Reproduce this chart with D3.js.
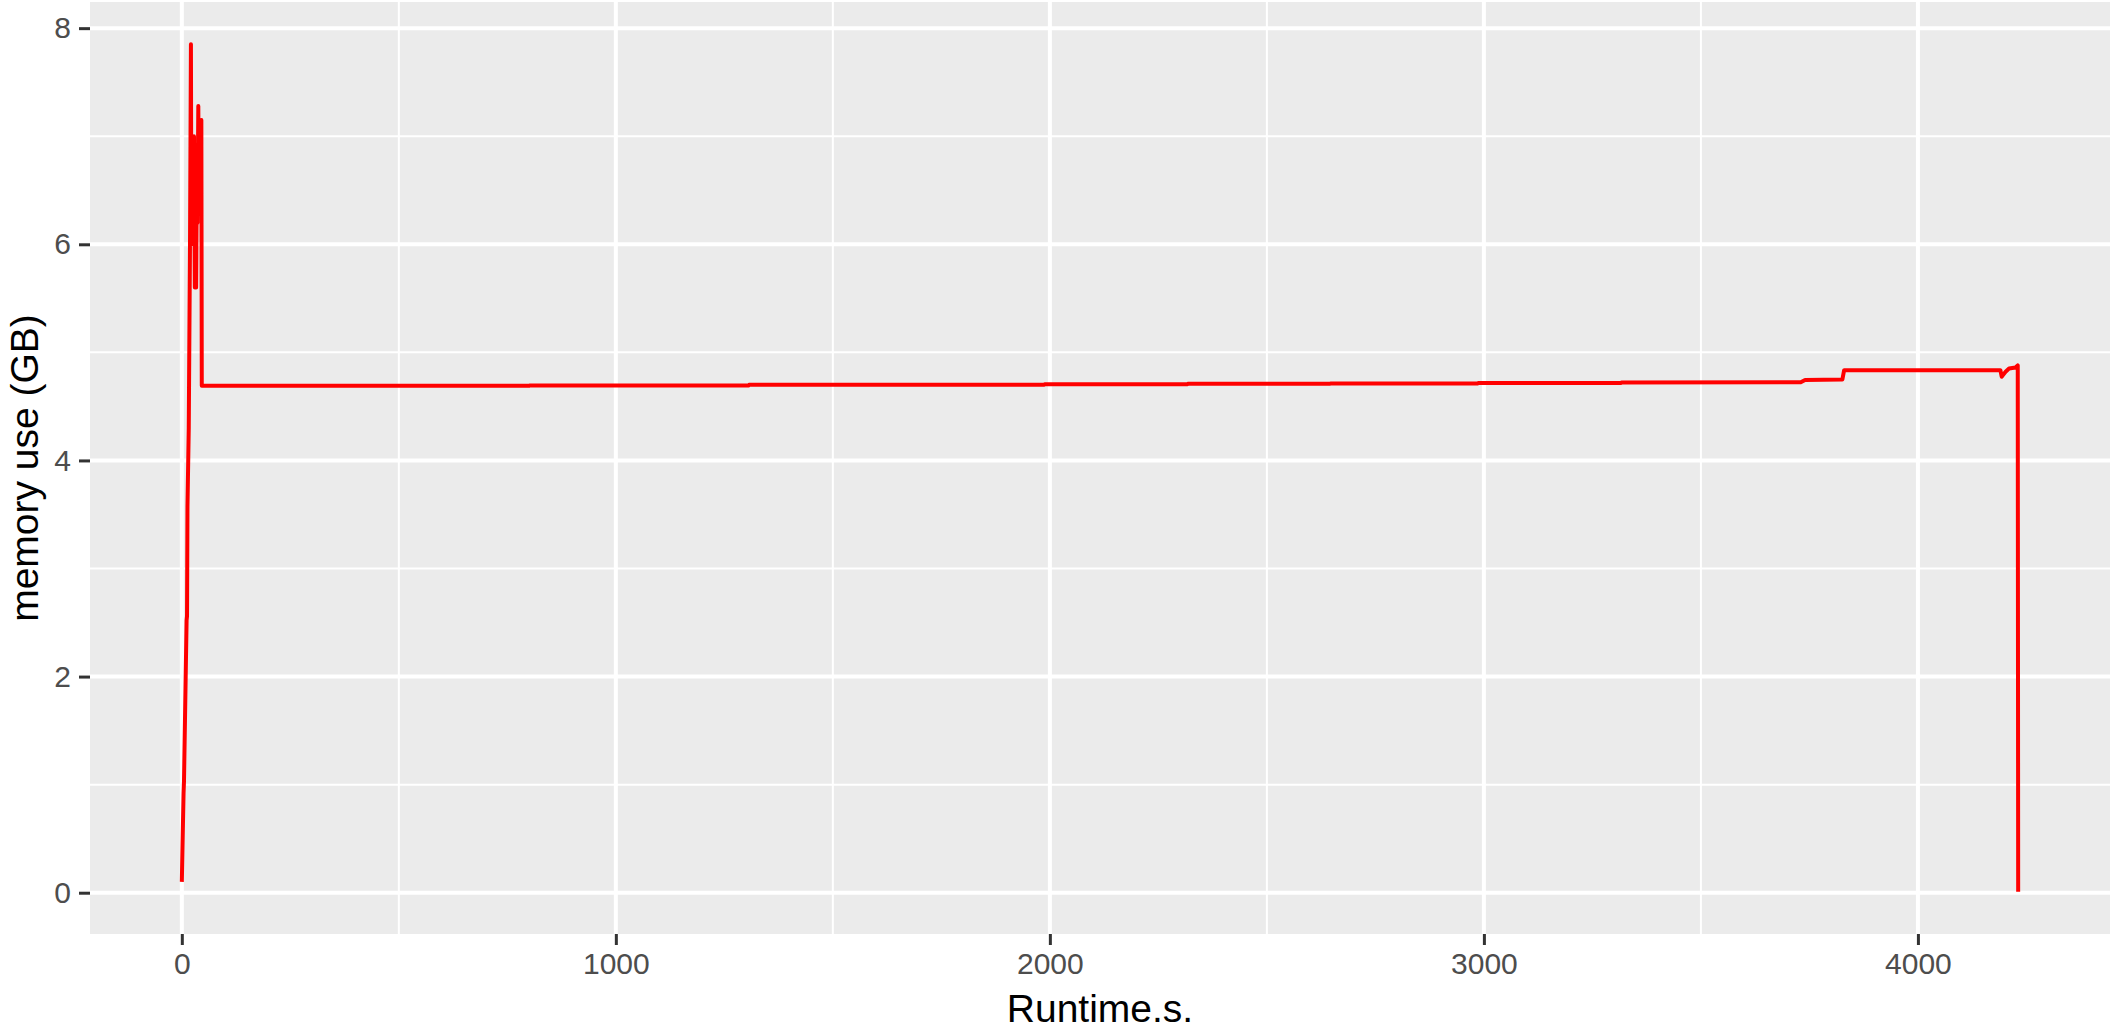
<!DOCTYPE html>
<html>
<head>
<meta charset="utf-8">
<script src="https://cdn.jsdelivr.net/npm/d3@7"></script>
<style>
  body { margin: 0; background: #fff; }
  svg { display: block; }
</style>
</head>
<body>
<div class="container"></div>
<script>
// memory trace (seconds, GB)
var runtimeS = [0, 4, 5, 11, 12, 13, 16, 19, 21, 22, 23, 24, 25, 27, 28, 30, 31, 33, 35, 36, 38, 39, 41, 42, 44, 45, 46,
    800, 801, 1306, 1307, 1987, 1988, 2317, 2318, 2646, 2647, 2986, 2987, 3316, 3317,
    3730, 3740, 3826, 3830, 4190, 4193, 4196, 4202, 4210, 4225, 4230, 4231];
var memoryGB = [0.10, 0.92, 1.03, 2.52, 2.56, 3.57, 4.30, 6.10, 7.85, 6.00, 7.00, 6.50, 7.00, 6.40, 7.00, 5.60, 6.90, 5.60, 6.90, 6.20, 7.28, 6.60, 7.15, 6.50, 7.10, 7.15, 4.69,
    4.690, 4.694, 4.694, 4.700, 4.700, 4.705, 4.705, 4.710, 4.710, 4.713, 4.713, 4.717, 4.717, 4.722,
    4.724, 4.745, 4.750, 4.835, 4.835, 4.775, 4.790, 4.820, 4.850, 4.860, 4.880, 0.01];

var xBreaks = [0, 1000, 2000, 3000, 4000];
var xMinorBreaks = [500, 1500, 2500, 3500];
var yBreaks = [0, 2, 4, 6, 8];
var yMinorBreaks = [1, 3, 5, 7];
var xTitle = 'Runtime.s.';
var yTitle = 'memory use (GB)';

var width = 2114, height = 1032;
var panel = { left: 90, right: 2110, top: 2, bottom: 934 };

var data = runtimeS.map((t, i) => ({ t: t, m: memoryGB[i] }));

// ggplot-style 5% expansion
var xExt = d3.extent(runtimeS), yExt = d3.extent(memoryGB);
var xPad = (xExt[1] - xExt[0]) * 0.05, yPad = (yExt[1] - yExt[0]) * 0.05;

var x = d3.scaleLinear()
    .domain([xExt[0] - xPad, xExt[1] + xPad])
    .range([panel.left, panel.right]);
var y = d3.scaleLinear()
    .domain([yExt[0] - yPad, yExt[1] + yPad])
    .range([panel.bottom, panel.top]);

var svg = d3.select('.container')
    .append('svg')
    .attr('width', width)
    .attr('height', height)
    .style('font-family', '"Liberation Sans", Arial, Helvetica, sans-serif');

svg.append('rect')
    .attr('x', panel.left)
    .attr('y', panel.top)
    .attr('width', panel.right - panel.left)
    .attr('height', panel.bottom - panel.top)
    .attr('fill', '#EBEBEB');

var grid = svg.append('g');

grid.selectAll('.xminor').data(xMinorBreaks).enter().append('line')
    .attr('x1', x).attr('x2', x)
    .attr('y1', panel.top).attr('y2', panel.bottom)
    .attr('stroke', '#fff').attr('stroke-width', 2);
grid.selectAll('.yminor').data(yMinorBreaks).enter().append('line')
    .attr('y1', y).attr('y2', y)
    .attr('x1', panel.left).attr('x2', panel.right)
    .attr('stroke', '#fff').attr('stroke-width', 2);
grid.selectAll('.xmajor').data(xBreaks).enter().append('line')
    .attr('x1', x).attr('x2', x)
    .attr('y1', panel.top).attr('y2', panel.bottom)
    .attr('stroke', '#fff').attr('stroke-width', 4);
grid.selectAll('.ymajor').data(yBreaks).enter().append('line')
    .attr('y1', y).attr('y2', y)
    .attr('x1', panel.left).attr('x2', panel.right)
    .attr('stroke', '#fff').attr('stroke-width', 4);

var line = d3.line()
    .x((d) => x(d.t))
    .y((d) => y(d.m));

svg.append('path')
    .datum(data)
    .attr('d', line)
    .attr('fill', 'none')
    .attr('stroke', '#FF0000')
    .attr('stroke-width', 4)
    .attr('stroke-linejoin', 'round');

// axes
var xAxis = svg.append('g')
    .attr('transform', `translate(0, ${panel.bottom})`)
    .call(d3.axisBottom(x).tickValues(xBreaks).tickSize(11).tickPadding(8).tickFormat(d3.format('d')));
var yAxis = svg.append('g')
    .attr('transform', `translate(${panel.left}, 0)`)
    .call(d3.axisLeft(y).tickValues(yBreaks).tickSize(11).tickPadding(8).tickFormat(d3.format('d')));

[xAxis, yAxis].forEach(function(ax) {
    ax.select('.domain').remove();
    ax.selectAll('.tick line').attr('stroke', '#333333').attr('stroke-width', 3);
    ax.selectAll('.tick text')
        .attr('fill', '#4D4D4D')
        .style('font-size', '30px');
});

svg.append('text')
    .attr('x', (panel.left + panel.right) / 2)
    .attr('y', 1022)
    .attr('text-anchor', 'middle')
    .style('font-size', '39px')
    .attr('fill', '#000')
    .text(xTitle);

svg.append('text')
    .attr('transform', `translate(38, ${(panel.top + panel.bottom) / 2}) rotate(-90)`)
    .attr('text-anchor', 'middle')
    .style('font-size', '39px')
    .attr('fill', '#000')
    .text(yTitle);
</script>
</body>
</html>
